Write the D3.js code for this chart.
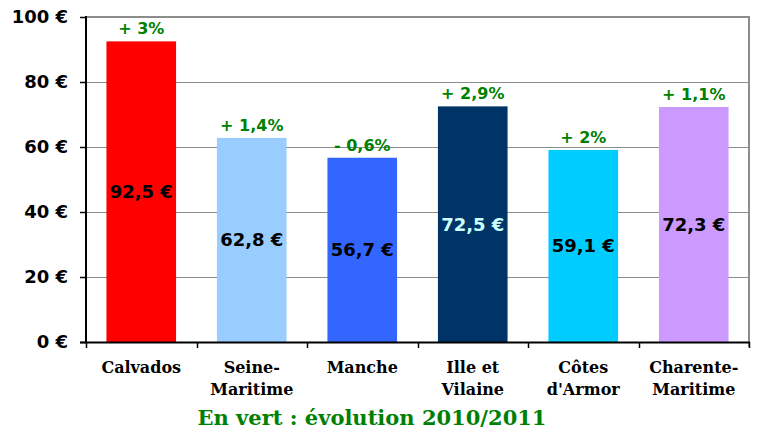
<!DOCTYPE html>
<html>
<head>
<meta charset="utf-8">
<script src="https://cdn.jsdelivr.net/npm/d3@7"></script>
<style>
  body { margin: 0; background: #fff; }
  svg { display: block; }
</style>
</head>
<body>
<svg width="759" height="440"></svg>
<script>
// data
var departements = ["Calvados", "Seine-\nMaritime", "Manche", "Ille et\nVilaine", "Côtes\nd'Armor", "Charente-\nMaritime"];
var montants = [92.5, 62.8, 56.7, 72.5, 59.1, 72.3];
var labelsMontant = ["92,5 €", "62,8 €", "56,7 €", "72,5 €", "59,1 €", "72,3 €"];
var evolutions = ["+ 3%", "+ 1,4%", "- 0,6%", "+ 2,9%", "+ 2%", "+ 1,1%"];
var couleurs = ["#ff0000", "#99ccff", "#3366ff", "#003366", "#00ccff", "#cc99ff"];
var couleursTexte = ["#000", "#000", "#000", "#ccffff", "#000", "#000"];
var ticksY = [0, 20, 40, 60, 80, 100];

var svg = d3.select("svg"),
    plotLeft = 86, plotRight = 749, plotTop = 17, plotBottom = 342;

var x = d3.scaleBand()
    .domain(d3.range(departements.length))
    .range([plotLeft, plotRight])
    .paddingInner(0.37)
    .paddingOuter(0.185);

var y = d3.scaleLinear()
    .domain([0, 100])
    .range([plotBottom, plotTop]);

var numFont = "'DejaVu Sans', sans-serif";
var slabFont = "'DejaVu Serif', serif";

// grid lines
svg.append("g")
    .selectAll("line")
    .data(ticksY.slice(1, -1))
    .enter().append("line")
    .attr("x1", plotLeft).attr("x2", plotRight)
    .attr("y1", function(d) { return Math.round(y(d)) + 0.5; })
    .attr("y2", function(d) { return Math.round(y(d)) + 0.5; })
    .attr("stroke", "#8c8c8c")
    .attr("stroke-width", 1);

// plot border (top + right)
svg.append("path")
    .attr("d", "M" + plotLeft + "," + plotTop + "H" + plotRight + "V" + (plotBottom + 5))
    .attr("fill", "none")
    .attr("stroke", "#8c8c8c")
    .attr("stroke-width", 2);

// bars
svg.append("g")
    .selectAll("rect")
    .data(montants)
    .enter().append("rect")
    .attr("x", function(d, i) { return x(i); })
    .attr("width", x.bandwidth())
    .attr("y", function(d) { return y(d); })
    .attr("height", function(d) { return y(0) - y(d); })
    .style("fill", function(d, i) { return couleurs[i]; });

// value labels in the middle of the bars
svg.append("g")
    .selectAll("text")
    .data(montants)
    .enter().append("text")
    .attr("x", function(d, i) { return x(i) + x.bandwidth() / 2; })
    .attr("y", function(d) { return (y(d) + y(0)) / 2; })
    .attr("dy", "0.36em")
    .attr("text-anchor", "middle")
    .style("font-family", numFont)
    .style("font-weight", "bold")
    .style("font-size", "18px")
    .style("fill", function(d, i) { return couleursTexte[i]; })
    .text(function(d, i) { return labelsMontant[i]; });

// evolution labels above bars
svg.append("g")
    .selectAll("text")
    .data(montants)
    .enter().append("text")
    .attr("x", function(d, i) { return x(i) + x.bandwidth() / 2; })
    .attr("y", function(d) { return y(d) - 7; })
    .attr("text-anchor", "middle")
    .style("font-family", numFont)
    .style("font-weight", "bold")
    .style("font-size", "16px")
    .style("fill", "#008000")
    .text(function(d, i) { return evolutions[i]; });

// y axis
var yAxis = svg.append("g")
    .attr("transform", "translate(" + plotLeft + ",0)")
    .call(d3.axisLeft(y).tickValues(ticksY).tickSize(6).tickPadding(12)
        .tickFormat(function(d) { return d + " €"; }));
yAxis.select(".domain").attr("stroke", "#000").attr("stroke-width", 2)
    .attr("d", "M0," + (plotTop - 1) + "V" + plotBottom);
yAxis.selectAll(".tick line").attr("stroke", "#000").attr("stroke-width", 1.5);
yAxis.selectAll("text")
    .style("font-family", numFont)
    .style("font-weight", "bold")
    .style("font-size", "18px")
    .style("fill", "#000");

// x axis
var xAxis = svg.append("g")
    .attr("transform", "translate(0," + plotBottom + ")");
xAxis.append("line")
    .attr("x1", plotLeft - 6).attr("x2", plotRight + 1)
    .attr("y1", 0.5).attr("y2", 0.5)
    .attr("stroke", "#000").attr("stroke-width", 2);
var step = (plotRight - plotLeft) / departements.length;
xAxis.selectAll(".sep")
    .data(d3.range(departements.length + 1))
    .enter().append("line")
    .attr("class", "sep")
    .attr("x1", function(i) { return Math.round(plotLeft + i * step) + 0.5; })
    .attr("x2", function(i) { return Math.round(plotLeft + i * step) + 0.5; })
    .attr("y1", 0).attr("y2", 6)
    .attr("stroke", "#000").attr("stroke-width", 1.5);

var cat = xAxis.selectAll(".cat")
    .data(departements)
    .enter().append("text")
    .attr("class", "cat")
    .attr("text-anchor", "middle")
    .attr("transform", function(d, i) { return "translate(" + (x(i) + x.bandwidth() / 2) + ",31)"; })
    .style("font-family", slabFont)
    .style("font-weight", "bold")
    .style("font-size", "16px")
    .style("fill", "#000");
cat.selectAll("tspan")
    .data(function(d) { return d.split("\n"); })
    .enter().append("tspan")
    .attr("x", 0)
    .attr("dy", function(d, i) { return i === 0 ? 0 : 22; })
    .text(function(d) { return d; });

// footer
svg.append("text")
    .attr("x", 372)
    .attr("y", 425)
    .attr("text-anchor", "middle")
    .style("font-family", slabFont)
    .style("font-weight", "bold")
    .style("font-size", "21px")
    .style("fill", "#008000")
    .text("En vert : évolution 2010/2011");
</script>
</body>
</html>
